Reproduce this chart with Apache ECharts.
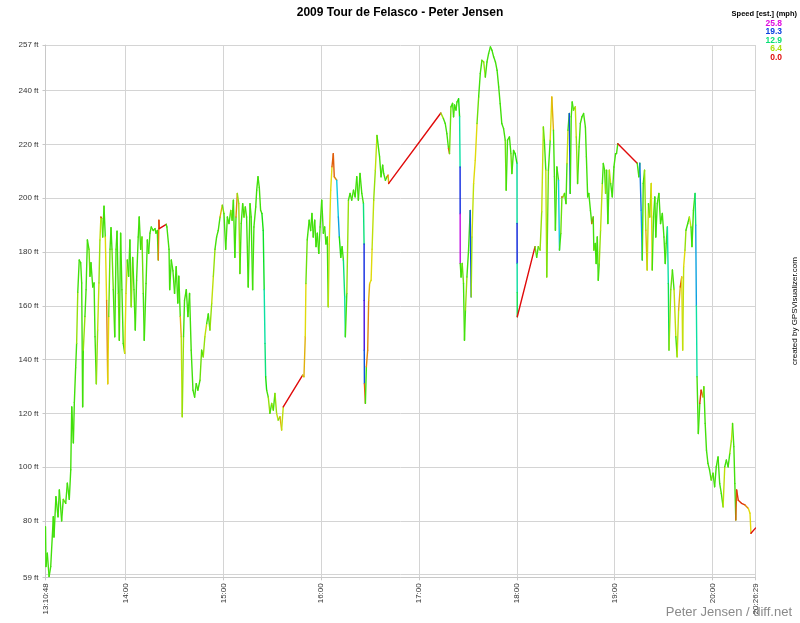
<!DOCTYPE html>
<html><head><meta charset="utf-8">
<script src="https://cdn.jsdelivr.net/npm/echarts@6/dist/echarts.min.js"></script>
<style>html,body{margin:0;padding:0;background:#fff}#c{width:800px;height:623px}</style>
</head><body><div id="c"></div>
<script>
// time in minutes after 13:00, elevation in ft, speed in mph
const times = [10.8,11.1,11.9,13.0,14.0,15.6,16.0,17.2,18.5,19.3,20.7,21.7,23.2,24.2,25.4,26.3,26.9,27.9,28.5,29.3,29.9,30.6,31.5,32.4,33.0,33.6,34.0,35.0,35.7,36.5,37.5,38.1,38.7,39.8,40.6,41.2,42.0,42.8,43.6,44.2,44.8,45.3,45.9,46.7,47.5,48.3,49.0,49.6,50.4,51.0,51.6,52.4,53.3,54.1,54.7,55.5,56.1,56.9,57.7,58.5,59.4,60.2,61.0,61.8,62.6,63.4,64.3,65.1,65.9,66.7,67.7,68.3,69.2,70.0,70.8,71.4,72.5,73.3,74.1,74.9,75.7,76.9,78.0,78.6,79.4,80.0,80.4,80.6,84.9,85.3,86.6,87.0,88.0,89.0,90.0,91.0,92.0,92.6,93.5,94.1,94.7,95.5,96.1,97.2,98.2,99.2,100.2,101.3,102.3,103.3,104.3,105.6,106.6,107.6,108.6,109.7,110.7,111.7,112.8,113.8,114.8,115.8,116.8,117.9,119.3,120.3,121.4,122.4,123.4,124.5,125.3,126.1,127.0,127.7,128.5,129.4,130.1,130.9,131.8,132.6,133.4,134.2,135.2,136.3,137.0,137.9,138.7,139.8,140.4,141.2,142.0,142.8,143.6,144.4,145.0,145.5,145.9,146.5,147.5,148.5,149.6,150.6,151.6,152.6,153.6,154.7,155.7,156.7,168.6,169.4,170.2,170.6,171.4,172.6,173.5,174.3,175.1,176.0,176.8,177.6,178.5,179.3,180.3,181.3,182.1,182.9,183.7,184.3,184.9,185.8,186.6,187.4,188.0,189.5,190.5,191.1,192.0,192.8,193.6,194.4,194.8,195.7,196.7,197.7,198.7,199.8,200.8,201.8,202.8,203.8,204.9,205.9,206.3,206.35,206.4,206.5,207.1,207.7,208.5,209.1,209.7,210.6,211.2,212.2,213.2,214.2,215.8,216.7,217.7,218.3,219.4,220.4,221.0,221.4,253.4,255.0,256.1,257.1,258.1,258.7,259.6,260.6,261.2,261.8,262.7,263.3,264.3,264.9,265.2,265.25,265.3,265.8,266.5,267.3,267.9,268.5,269.4,270.4,271.4,272.0,272.5,273.5,274.5,275.6,276.6,277.6,278.6,279.7,280.7,281.7,282.7,283.8,284.8,285.8,286.9,287.9,288.9,289.8,290.8,291.9,292.9,293.5,294.3,295.5,296.4,297.0,298.0,299.0,300.1,300.15,300.2,300.25,300.3,311.2,312.2,313.2,314.3,315.3,316.3,316.9,317.8,318.4,319.4,320.5,321.5,322.5,323.1,323.7,324.6,325.6,326.2,327.0,327.7,328.3,329.3,330.2,330.8,331.4,332.2,332.8,333.4,334.0,334.8,335.9,336.5,337.3,338.2,339.0,340.0,341.0,342.1,342.7,343.5,344.2,345.2,346.0,346.9,347.3,348.1,348.7,349.4,350.0,350.6,351.4,352.5,353.1,353.9,354.5,355.1,355.9,356.8,357.6,358.6,359.6,360.6,361.2,362.0,373.9,374.9,375.5,376.3,377.0,377.6,378.4,379.2,380.0,380.8,381.6,382.5,383.1,383.9,384.7,385.3,386.2,387.2,388.2,389.3,390.3,391.1,391.7,392.4,393.0,393.4,394.5,395.5,396.5,397.6,398.4,399.3,400.3,401.2,401.8,402.4,403.2,403.8,404.9,405.9,406.9,407.5,408.4,409.4,409.8,410.2,410.6,411.4,412.3,413.1,414.2,414.8,415.6,416.4,417.3,418.3,419.3,420.4,421.4,422.4,423.5,424.5,425.5,426.6,427.6,428.6,429.7,430.7,431.7,432.4,433.2,433.8,434.4,434.9,435.9,437.9,440.0,442.1,443.1,443.7,446.48];
const elevations = [77.8,63,68,59.2,63,81.5,74,89,81.5,91.5,80,88,86.5,94,88,99,122.4,109,124,137,146,165,177,176,168.5,122.4,143.5,156,166,184.5,181,171,176,167,168.5,148.5,131,151,168.5,184.5,193,192.5,185.6,197,185.6,162,131,156,181,189,181,166,148.5,181,187.7,164.6,147.2,187,166,146,142.3,164.6,177,171,184.5,159.6,178,166,151,169.5,185.6,193,181,185.6,164.6,147.2,168.3,184.5,179.5,187,189.3,188,188.7,187,188,177,191.8,188.7,190.3,189.3,181,166,177,173,164.6,174.5,161,171,156,148.5,118.7,148.5,162,166,156,164.6,143.5,128.6,126,131,128.6,132.3,143.5,141,148.5,153.4,157,151,161,171,181,185.6,188,193,197.4,194.3,181,193,190.6,195.5,191.8,199.3,178,193,201.8,198,172,190.6,198,193,196.8,193,167,198,193,166,189.3,196.8,203,208,204,195.5,194.3,188,166,146,133.6,128.6,126,120,123.7,121.2,127.4,120,117.5,118.7,113.8,122.4,134.2,133.6,148.5,168.3,184.5,191.8,188,194.3,185.6,191.8,182,187,179.5,189.3,199.3,187,189.3,183,185.6,159.6,183,203,211.7,216.6,208,206.7,193,185.6,178,182,177,163.3,148.5,164.6,199.3,201.8,199.3,203,200.5,208,199.3,209.2,201.8,198,183,162,143.5,131,123.7,137.3,143.5,162,168.3,169.5,181,199.3,210.4,223.4,215.4,208,212.3,209.2,206.7,208,208.6,205.5,231.7,229.6,227.8,224,218.5,216.6,234,235.3,230.3,234.7,232.8,235.8,237,230.3,211.6,194.2,175.7,170.7,175.7,168.3,147.2,158.4,170.7,180.7,195.5,163.3,185.6,205.5,214.1,227.8,237.7,246.4,251.3,250.7,245.1,250.7,253.8,256.3,255,252.6,250.7,247.6,241.4,235.2,227.8,225.9,221.6,203,221.6,222.8,216.6,209.2,217.8,216.6,213,190.6,175.7,165,155.9,182,178,182,180.7,195,226.5,221.6,210.4,170.7,210.4,221.6,237.7,225.3,208,188.1,211.6,206.7,180.7,186.9,200.5,200.5,201.8,198,212.9,225.3,231.5,201.8,230.3,235.8,232.8,234,222.8,205.5,219.1,227.8,230.3,231.5,226.5,215.4,200.5,201.8,195.5,190.6,193,180.7,183.2,175.7,185.6,169.5,175.7,188.1,205.5,212.9,210.4,201.8,210.4,190.6,210.4,205.5,200.5,211.6,216.6,216.6,220.3,213,208,213,195.5,177,205.5,210.4,188.1,173.3,198,193,205.5,173.3,193,200.5,185.6,198,201.8,190.6,194.3,185.6,175.7,183.2,189.3,168.3,143.5,166,173.3,166,148.5,141,158.4,167,170.7,143.5,174.5,180.7,188.1,190.6,193,189.3,182,195.5,201.8,190,160,133.6,112.5,123.7,128.6,126.1,129.9,116.2,106.3,101.4,98.9,95.2,97.7,92.7,100.1,103.8,93.9,90.2,85.2,100.1,102.6,100.1,105.1,110,116.2,107.6,93.9,80.3,91.5,87.7,86.5,85.9,84.6,82.8,75.4,77.3];
const speeds = [9,9,9,9,9,9,9,9,9,9,9,9,8,9,9,9,9,9,9,9,9,7,9,9,9,9,9,7,9,9,9,8,9,9,9,9,9,7,6,7,6,1,7,9,9,5,3,5,8,9,9,8,9,9,9,9,8,9,9,9,9,5,6,9,9,9,7,9,9,9,9,9,9,9,8,9,9,9,9,9,9,9,9,9,9,9,3,1,0,9,9,9,9,9,9,9,9,9,9,4,6,7,9,9,9,9,9,9,9,9,9,9,8,9,7,6,9,9,7,6,7,9,9,9,4,8,9,9,9,9,7,9,9,9,3,7,7,9,9,9,8,9,9,9,9,9,9,9,9,9,9,9,9,10,11,14,13,10,9,7,9,7,9,7,6,8,4,6,0,6,4,5,8,9,9,9,9,9,9,9,9,9,9,9,9,9,9,9,6,5,5,2,2,3,16,17,10,9,9,13,14,9,7,9,9,9,9,9,9,9,9,9,13,20,22,19,2,9,3,3,4,5,5,6,7,6,9,9,9,9,9,9,2,4,0,7,9,9,9,2,8,9,9,9,9,9,9,10,14,20,25,9,9,8,9,9,7,9,9,19,7,6,5,5,8,9,9,8,7,9,9,9,9,9,9,9,9,9,9,9,9,8,9,9,9,8,9,9,10,14,20,14,12,0,8,9,8,7,6,8,9,6,8,9,5,4,9,9,9,9,16,9,8,1,7,9,9,6,9,19,9,9,9,8,6,7,9,9,9,9,9,9,9,9,9,9,2,9,8,9,9,9,9,7,6,9,9,9,7,9,9,6,9,9,9,9,9,0,9,9,18,17,9,9,7,4,6,9,7,5,9,9,9,9,9,9,9,9,9,9,9,14,12,7,8,9,6,9,6,4,2,5,6,5,7,9,9,6,9,9,9,13,17,14,9,9,1,1,6,9,9,9,9,9,8,9,9,9,9,9,9,6,9,9,9,7,6,9,9,9,2,1,1,1,3,5,5,0];
const xTickValues = [10.8, 60, 120, 180, 240, 300, 360, 420, 446.48];
const yTickValues = [59, 60, 80, 100, 120, 140, 160, 180, 200, 220, 240, 257];
const legendValues = ['25.8', '19.3', '12.9', '6.4', '0.0'];
const legendMax = 25.8;

function hsv(h, s, v) {
  const c = v * s, hp = h / 60, x = c * (1 - Math.abs(hp % 2 - 1));
  let r = 0, g = 0, b = 0;
  if (hp < 1) { r = c; g = x; } else if (hp < 2) { r = x; g = c; } else if (hp < 3) { g = c; b = x; }
  else if (hp < 4) { g = x; b = c; } else if (hp < 5) { r = x; b = c; } else { r = c; b = x; }
  const m = v - c;
  const f = t => Math.round((t + m) * 255);
  return 'rgb(' + f(r) + ',' + f(g) + ',' + f(b) + ')';
}
function speedColor(s) {
  const h = Math.max(0, Math.min(300, s / legendMax * 300));
  return hsv(h, 0.95, 0.88);
}

const n = Math.min(times.length, elevations.length, speeds.length);
const segments = [];
for (let i = 1; i < n; i++) {
  segments.push([times[i - 1], elevations[i - 1], times[i], elevations[i], speeds[i]]);
}

function fmtTime(v) {
  const tot = Math.round((780 + v) * 60);
  const h = Math.floor(tot / 3600), m = Math.floor((tot % 3600) / 60), s = tot % 60;
  const mm = String(m).padStart(2, '0');
  return s === 0 ? h + ':' + mm : h + ':' + mm + ':' + String(s).padStart(2, '0');
}

const FONT = '"Liberation Sans", Arial, sans-serif';
const chart = echarts.init(document.getElementById('c'), null, { renderer: 'canvas' });
const legendGraphics = [{
  type: 'text', right: 3, top: 10,
  style: { text: 'Speed [est.] (mph)', font: 'bold 7.5px ' + FONT, fill: '#000', textAlign: 'right' }
}];
legendValues.forEach((v, i) => {
  legendGraphics.push({
    type: 'text', x: 782, y: 19 + i * 8.5,
    style: { text: v, font: 'bold 8.5px ' + FONT, fill: speedColor(parseFloat(v)), textAlign: 'right' }
  });
});

chart.setOption({
  animation: false,
  backgroundColor: '#fff',
  title: {
    text: '2009 Tour de Felasco - Peter Jensen', left: 'center', top: 2,
    textStyle: { fontFamily: FONT, fontSize: 12, fontWeight: 'bold', color: '#000' }
  },
  grid: { left: 45.5, right: 44.5, top: 45, bottom: 45.7 },
  xAxis: {
    type: 'value', min: xTickValues[0], max: xTickValues[xTickValues.length - 1],
    axisLine: { show: true, lineStyle: { color: '#c8c8c8' } },
    axisTick: { show: true, customValues: xTickValues, length: 3, lineStyle: { color: '#c8c8c8' } },
    axisLabel: { customValues: xTickValues, rotate: 90, formatter: fmtTime, fontFamily: FONT, fontSize: 8, color: '#333', margin: 6, showMinLabel: true, showMaxLabel: true },
    splitLine: { show: true, lineStyle: { color: '#d4d4d4', width: 1 } }
  },
  yAxis: {
    type: 'value', min: 59, max: 257,
    axisLine: { show: true, lineStyle: { color: '#c8c8c8' } },
    axisTick: { show: true, customValues: yTickValues, length: 3, lineStyle: { color: '#c8c8c8' } },
    axisLabel: { customValues: yTickValues, hideOverlap: false, showMinLabel: true, showMaxLabel: true, formatter: v => Math.round(v) + ' ft', fontFamily: FONT, fontSize: 8, color: '#333', margin: 7 },
    splitLine: { show: true, lineStyle: { color: '#d4d4d4', width: 1 } }
  },
  series: [{
    type: 'custom', coordinateSystem: 'cartesian2d', data: segments, clip: true,
    encode: { x: [0, 2], y: [1, 3] },
    renderItem: function (params, api) {
      const p1 = api.coord([api.value(0), api.value(1)]);
      const p2 = api.coord([api.value(2), api.value(3)]);
      return {
        type: 'line', shape: { x1: p1[0], y1: p1[1], x2: p2[0], y2: p2[1] },
        style: { stroke: speedColor(api.value(4)), lineWidth: 1.4, lineCap: 'round' }
      };
    }
  }],
  graphic: legendGraphics.concat([
    {
      type: 'text', x: 795, y: 311, rotation: Math.PI / 2,
      style: { text: 'created by GPSVisualizer.com', font: '8px ' + FONT, fill: '#000', textAlign: 'center', textVerticalAlign: 'middle' }
    },
    {
      type: 'text', right: 8, bottom: 4,
      style: { text: 'Peter Jensen / diff.net', font: '13px ' + FONT, fill: '#8a8a8a' }
    }
  ])
});
</script>
</body></html>
